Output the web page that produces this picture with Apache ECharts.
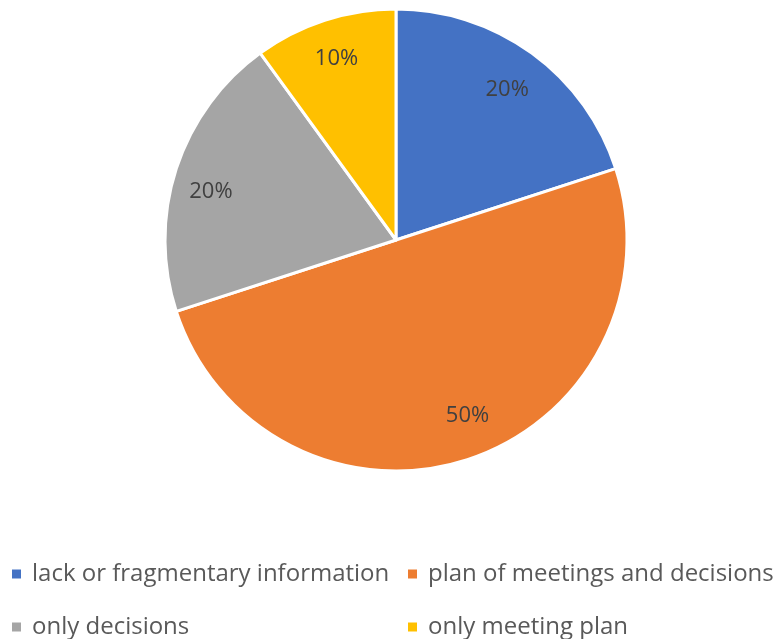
<!DOCTYPE html>
<html>
<head>
<meta charset="utf-8">
<script src="https://cdn.jsdelivr.net/npm/echarts@6/dist/echarts.min.js"></script>
<style>
  html, body { margin: 0; padding: 0; background: #fff; }
  #chart { width: 780px; height: 639px; }
</style>
</head>
<body>
<div id="chart"></div>
<script>
const categories = [
  'lack or fragmentary information',
  'plan of meetings and decisions',
  'only decisions',
  'only meeting plan'
];
const values = [20, 50, 20, 10];
const colors = ['#4472C4', '#ED7D31', '#A5A5A5', '#FFC000'];

const font = '"Open Sans", Lato, sans-serif';

// small nudges so labels sit where the original put them
const labelNudge = [[-2, 2], [12, -10], [-2, 8], [0, -1]];

const slices = categories.map((name, i) => ({ name: name, value: values[i] }));
const labelSlices = slices.map((s, i) => ({
  name: s.name,
  value: s.value,
  label: { offset: labelNudge[i] }
}));

// one legend per item so the 2x2 grid sits exactly where the reference has it
const legendSpots = [[10, 562], [406, 562], [10, 615], [406, 615]];
const legends = categories.map((name, i) => ({
  data: [name],
  left: legendSpots[i][0],
  top: legendSpots[i][1],
  icon: 'rect',
  itemWidth: 11,
  itemHeight: 11,
  padding: 0,
  textStyle: { fontFamily: font, fontSize: 24, color: '#595959', padding: [0, 0, 0, 5] }
}));

const chart = echarts.init(document.getElementById('chart'), null, { renderer: 'canvas' });

chart.setOption({
  animation: false,
  color: colors,
  legend: legends,
  series: [
    {
      type: 'pie',
      center: [396, 240],
      radius: [0, 231],
      startAngle: 90,
      clockwise: true,
      silent: true,
      data: slices,
      itemStyle: { borderColor: '#fff', borderWidth: 3 },
      label: { show: false },
      labelLine: { show: false }
    },
    {
      // transparent ring only used to place the percent labels at ~0.82 r
      type: 'pie',
      center: [396, 243],
      radius: [148, 231],
      startAngle: 90,
      clockwise: true,
      silent: true,
      data: labelSlices,
      itemStyle: { color: 'rgba(0,0,0,0)', borderWidth: 0 },
      label: {
        show: true,
        position: 'inside',
        formatter: '{d}%',
        fontFamily: font,
        fontSize: 22,
        color: '#404040'
      },
      labelLine: { show: false }
    }
  ]
});
</script>
</body>
</html>
